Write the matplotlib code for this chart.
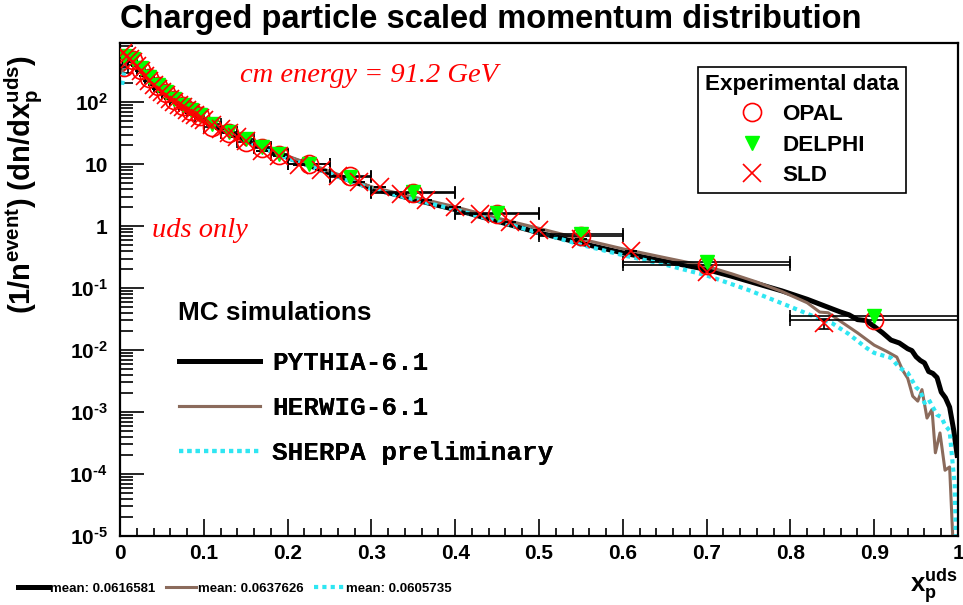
import matplotlib
matplotlib.use("Agg")
import matplotlib.pyplot as plt
from matplotlib.ticker import FixedLocator, FuncFormatter, MultipleLocator, NullFormatter

# ==========================================
# 1) data (read off the reference picture)
# ==========================================
# OPAL / DELPHI: same binning, bin centres and half widths
EXP_X = [0.005, 0.015, 0.025, 0.035, 0.045, 0.055, 0.065, 0.075, 0.085, 0.095,
         0.11, 0.13, 0.15, 0.17, 0.19, 0.225, 0.275, 0.35, 0.45, 0.55, 0.7, 0.9]
EXP_XERR = [0.005, 0.005, 0.005, 0.005, 0.005, 0.005, 0.005, 0.005, 0.005, 0.005,
            0.01, 0.01, 0.01, 0.01, 0.01, 0.025, 0.025, 0.05, 0.05, 0.05, 0.1, 0.1]
OPAL_Y = [370, 480, 335, 245, 182, 140, 110, 88, 72, 60,
          40, 32, 23, 18, 14, 10.2, 6.5, 3.45, 1.55, 0.68, 0.24, 0.030]
DELPHI_Y = [560, 500, 350, 255, 190, 146, 114, 91, 75, 62,
            45, 33, 25, 19, 14.5, 10.0, 6.3, 3.5, 1.6, 0.74, 0.26, 0.036]

SLD_X = [0.004, 0.008, 0.012, 0.016, 0.02, 0.025, 0.03, 0.035, 0.04, 0.045,
         0.05, 0.055, 0.06, 0.065, 0.07, 0.075, 0.08, 0.085, 0.09, 0.095,
         0.1, 0.11, 0.12, 0.13, 0.14, 0.15, 0.17, 0.19, 0.214, 0.24,
         0.26, 0.285, 0.31, 0.335, 0.365, 0.4, 0.43, 0.465, 0.5, 0.55,
         0.61, 0.7, 0.84]
SLD_Y = [610, 560, 500, 440, 385, 320, 262, 222, 192, 166,
         146, 128, 114, 101, 91, 82, 74, 67, 61, 56,
         51, 43, 37, 31.5, 27, 23.5, 16.5, 13.5, 9.6, 8.0,
         6.4, 5.2, 4.2, 3.3, 2.6, 2.0, 1.55, 1.15, 0.88, 0.62,
         0.40, 0.18, 0.027]
SLD_YERR = [0, 0, 0, 0, 0, 0, 0, 0, 0, 0,
            0, 0, 0, 0, 0, 0, 0, 0, 0, 0,
            0, 0, 0, 0, 0, 0, 0, 0, 0, 0,
            0, 0, 0, 0, 0, 0, 0, 0, 0, 0,
            0, 0, 0.005]

# MC curves
PY_X = [0.0025, 0.0075, 0.0125, 0.0175, 0.0225, 0.03, 0.04, 0.05, 0.06, 0.07,
        0.08, 0.09, 0.1, 0.12, 0.14, 0.16, 0.18, 0.2, 0.25, 0.3,
        0.35, 0.4, 0.45, 0.5, 0.55, 0.6, 0.65, 0.7, 0.73, 0.76,
        0.79, 0.82, 0.84, 0.86, 0.87, 0.88, 0.89, 0.9, 0.91, 0.92,
        0.93, 0.94, 0.945, 0.95, 0.955, 0.96, 0.965, 0.97, 0.975, 0.98,
        0.985, 0.99, 0.995, 0.999]
PY_Y = [330, 540, 560, 470, 390, 290, 205, 150, 116, 92,
        74, 61, 51, 37, 28, 21.5, 16.5, 12.8, 7.2, 4.1,
        2.7, 1.85, 1.2, 0.78, 0.53, 0.37, 0.27, 0.2, 0.155, 0.118,
        0.09, 0.066, 0.052, 0.041, 0.037, 0.031, 0.030, 0.024, 0.019, 0.0145,
        0.013, 0.0105, 0.0098, 0.0078, 0.0068, 0.0062, 0.0045, 0.0042, 0.0036, 0.0021,
        0.0017, 0.0012, 0.0005, 0.0002]

HW_X = [0.0025, 0.0075, 0.0125, 0.0175, 0.0225, 0.03, 0.04, 0.05, 0.06, 0.07,
        0.08, 0.09, 0.1, 0.12, 0.14, 0.16, 0.18, 0.2, 0.25, 0.3,
        0.35, 0.4, 0.45, 0.5, 0.55, 0.6, 0.65, 0.7, 0.73, 0.76,
        0.79, 0.82, 0.835, 0.845, 0.86, 0.88, 0.9, 0.915, 0.927, 0.934,
        0.94, 0.946, 0.952, 0.957, 0.963, 0.969, 0.973, 0.9785, 0.9845, 0.99,
        0.994]
HW_Y = [300, 520, 540, 460, 385, 288, 205, 152, 118, 94,
        76, 63, 53, 38.5, 29, 22.5, 17.5, 13.5, 7.7, 4.3,
        2.95, 2.05, 1.35, 0.92, 0.62, 0.43, 0.31, 0.225, 0.17, 0.125,
        0.088, 0.058, 0.041, 0.040, 0.029, 0.019, 0.012, 0.0095, 0.0077, 0.0047,
        0.0035, 0.0018, 0.0015, 0.0023, 0.0008, 0.0011, 0.00022, 0.00046, 0.000115, 0.00013,
        0.000008]

SH_X = [0.0025, 0.0075, 0.0125, 0.0175, 0.0225, 0.03, 0.04, 0.05, 0.06, 0.07,
        0.08, 0.09, 0.1, 0.12, 0.14, 0.16, 0.18, 0.2, 0.25, 0.3,
        0.35, 0.4, 0.45, 0.5, 0.55, 0.6, 0.65, 0.7, 0.75, 0.8,
        0.83, 0.85, 0.87, 0.89, 0.9, 0.91, 0.92, 0.93, 0.94, 0.95,
        0.955, 0.96, 0.965, 0.97, 0.975, 0.98, 0.985, 0.99, 0.993, 0.996,
        0.998]
SH_Y = [190, 500, 560, 470, 385, 285, 200, 147, 114, 90,
        73, 60, 50, 36.5, 27.5, 21, 16.2, 12.5, 7.1, 4.0,
        2.7, 1.85, 1.2, 0.78, 0.5, 0.34, 0.24, 0.16, 0.093, 0.05,
        0.034, 0.027, 0.018, 0.011, 0.009, 0.0082, 0.0075, 0.0052, 0.0043, 0.0025,
        0.0022, 0.0014, 0.0016, 0.0012, 0.0009, 0.00083, 0.0006, 0.0005, 0.00018, 0.00007,
        0.000005]

MC_NAMES = ["PYTHIA-6.1", "HERWIG-6.1", "SHERPA preliminary"]
MC_MEANS = ["mean: 0.0616581", "mean: 0.0637626", "mean: 0.0605735"]

X_TICKS = [0, 0.1, 0.2, 0.3, 0.4, 0.5, 0.6, 0.7, 0.8, 0.9, 1.0]
X_TICKLABELS = ["0", "0.1", "0.2", "0.3", "0.4", "0.5", "0.6", "0.7", "0.8", "0.9", "1"]
Y_TICKS = [1e-5, 1e-4, 1e-3, 1e-2, 1e-1, 1, 10, 100]
Y_TICKLABELS = [r"$10^{\text{-}5}$", r"$10^{\text{-}4}$", r"$10^{\text{-}3}$", r"$10^{\text{-}2}$",
                r"$10^{\text{-}1}$", "1", "10", r"$10^{2}$"]

# ==========================================
# 2) style
# ==========================================
plt.rcParams["font.family"] = ["Liberation Sans", "DejaVu Sans"]
plt.rcParams["font.weight"] = "bold"
plt.rcParams["mathtext.fontset"] = "custom"
plt.rcParams["mathtext.rm"] = "Liberation Sans:bold"
plt.rcParams["mathtext.it"] = "Liberation Sans:bold"
plt.rcParams["mathtext.bf"] = "Liberation Sans:bold"

C_BROWN = "#8b6b5c"
C_CYAN = "#2fe6f2"
C_GREEN = "#00ff00"

fig = plt.figure(figsize=(9.63, 6.05), dpi=100)
ax = fig.add_axes([120 / 963, 1 - 536 / 605, 838 / 963, 493 / 605])

# ==========================================
# 3) MC curves
# ==========================================
l_py, = ax.plot(PY_X, PY_Y, color="black", lw=3.6, zorder=2)
l_hw, = ax.plot(HW_X, HW_Y, color=C_BROWN, lw=2.2, zorder=2)
l_sh, = ax.plot(SH_X, SH_Y, color=C_CYAN, lw=3.0, ls=(0, (1, 1)), zorder=2)

# ==========================================
# 4) experimental data
# ==========================================
ax.errorbar(EXP_X, OPAL_Y, xerr=EXP_XERR, fmt="none", ecolor="black",
            elinewidth=1.2, capsize=4, capthick=1.2, zorder=3)
ax.errorbar(EXP_X, DELPHI_Y, xerr=EXP_XERR, fmt="none", ecolor="black",
            elinewidth=1.2, capsize=4, capthick=1.2, zorder=3)
ax.errorbar(SLD_X, SLD_Y, yerr=SLD_YERR, fmt="none", ecolor="black",
            elinewidth=1.2, capsize=4, capthick=1.2, zorder=3)

m_opal, = ax.plot(EXP_X, OPAL_Y, ls="none", marker="o", ms=13, mfc="none",
                  mec="red", mew=1.2, zorder=4)
m_delphi, = ax.plot(EXP_X, DELPHI_Y, ls="none", marker="v", ms=10,
                    color=C_GREEN, mec=C_GREEN, zorder=5)
m_sld, = ax.plot(SLD_X, SLD_Y, ls="none", marker="x", ms=13, color="red",
                 mew=1.2, zorder=6)

# ==========================================
# 5) axes
# ==========================================
ax.set_xlim(0, 1)
ax.set_yscale("log")
ax.set_ylim(1e-5, 900)

ax.xaxis.set_major_locator(FixedLocator(X_TICKS))
ax.xaxis.set_major_formatter(FuncFormatter(lambda v, p: X_TICKLABELS[p] if p is not None and p < len(X_TICKLABELS) else ""))
ax.xaxis.set_minor_locator(MultipleLocator(0.02))
ax.yaxis.set_major_locator(FixedLocator(Y_TICKS))
ax.yaxis.set_major_formatter(FuncFormatter(lambda v, p: Y_TICKLABELS[p] if p is not None and p < len(Y_TICKLABELS) else ""))
ax.yaxis.set_minor_formatter(NullFormatter())

ax.tick_params(axis="both", which="both", direction="in", top=False, right=False, width=1.2)
ax.tick_params(axis="y", which="major", length=17, labelsize=15, pad=9)
ax.tick_params(axis="y", which="minor", length=9)
ax.tick_params(axis="x", which="major", length=12, labelsize=15, pad=6)
ax.tick_params(axis="x", which="minor", length=6)
for s in ax.spines.values():
    s.set_linewidth(1.6)

ax.set_ylabel(r"(1/n$^{\rm event}$) (dn/dx$_{\rm p}^{\rm uds}$)", fontsize=21, fontweight="bold")
ax.yaxis.set_label_coords(-0.089, 0.713)
ax.set_xlabel(r"x$_{\rm p}^{\rm uds}$", fontsize=18.5, fontweight="bold", loc="right", labelpad=2)

fig.text(120 / 963, 1 - 28 / 605, "Charged particle scaled momentum distribution",
         fontsize=23.5, fontweight="bold", ha="left", va="baseline")

ax.text(0.143, 0.935, "cm energy = 91.2 GeV", transform=ax.transAxes, color="red",
        fontsize=20.5, family="Liberation Serif", style="italic", fontweight="normal",
        ha="left", va="center")
ax.text(0.038, 0.62, "uds only", transform=ax.transAxes, color="red",
        fontsize=20.5, family="Liberation Serif", style="italic", fontweight="normal",
        ha="left", va="center")

# ==========================================
# 6) legends
# ==========================================
leg1 = ax.legend([m_opal, m_delphi, m_sld], ["OPAL", "DELPHI", "SLD"],
                 title="Experimental data", loc="upper left",
                 bbox_to_anchor=(0.690, 0.951), borderaxespad=0,
                 fontsize=16.2, title_fontproperties={"size": 16.2, "weight": "bold"},
                 fancybox=False, edgecolor="black", framealpha=1,
                 handlelength=1.2, handletextpad=0.75, labelspacing=0.42,
                 borderpad=0.3)
leg1.get_frame().set_linewidth(1.2)
ax.add_artist(leg1)

ax.text(0.0692, 0.4523, "MC simulations", transform=ax.transAxes,
        fontsize=18.8, fontweight="bold", ha="left", va="center")
leg2 = ax.legend([l_py, l_hw, l_sh], MC_NAMES,
                 loc="center left", bbox_to_anchor=(0.0576, 0.2596), borderaxespad=0,
                 frameon=False,
                 prop={"family": "Liberation Mono", "weight": "bold", "size": 18.7},
                 handlelength=3.15, handletextpad=0.46, labelspacing=0.81)
ax.add_artist(leg2)

fig.legend([l_py, l_hw, l_sh], MC_MEANS, loc="lower left", ncol=3,
           bbox_to_anchor=(0.0066, -0.003), frameon=False,
           prop={"family": "Liberation Sans", "weight": "bold", "size": 9.5},
           handlelength=2.27, handletextpad=0.15, columnspacing=0.8, borderpad=0.4)

fig.savefig("out.png", dpi=100)
